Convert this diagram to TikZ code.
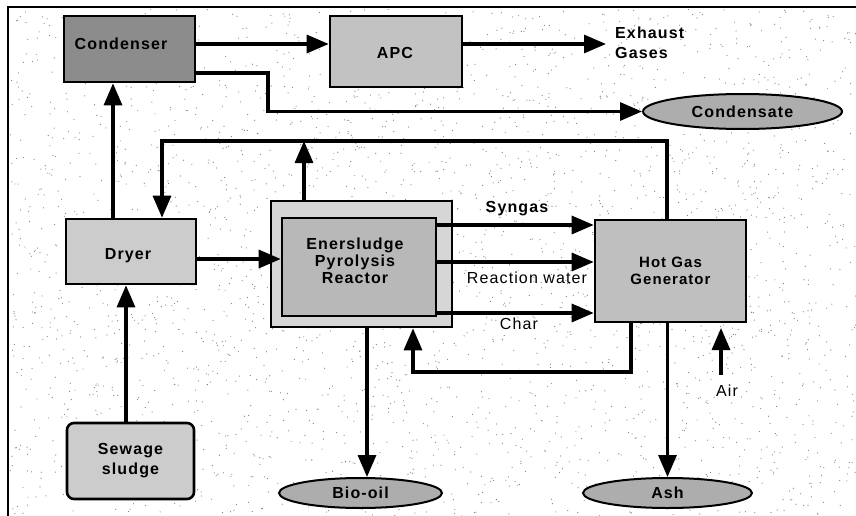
\documentclass[tikz,border=0pt]{standalone}
\usepackage{fontspec}
\setmainfont{Liberation Sans}[LetterSpace=7]
\usetikzlibrary{arrows.meta,shapes.geometric}
\definecolor{condfill}{gray}{0.55}
\definecolor{apcfill}{gray}{0.76}
\definecolor{dryfill}{gray}{0.80}
\definecolor{routfill}{gray}{0.84}
\definecolor{rinfill}{gray}{0.72}
\definecolor{hggfill}{gray}{0.75}
\definecolor{sewfill}{gray}{0.80}
\definecolor{ellfill}{gray}{0.68}
\definecolor{dotcol}{gray}{0.5}
\begin{document}
\begin{tikzpicture}[x=1pt,y=-1pt,
  box/.style={draw, line width=2.6pt, inner sep=0pt, align=center,
    font=\fontsize{16}{17}\selectfont\bfseries},
  txt/.style={inner sep=0pt, align=center, font=\fontsize{16}{17}\selectfont\bfseries},
  oval/.style={draw, ellipse, line width=2pt, inner sep=0pt, fill=ellfill,
    font=\fontsize{16}{17}\selectfont\bfseries},
  flow/.style={line width=3.2pt, -{Triangle[length=22pt,width=18pt]}},
  lbl/.style={font=\fontsize{16}{20}\selectfont\bfseries, inner sep=1pt},
  lbltwo/.style={font=\fontsize{16}{20}\selectfont, inner sep=1pt}]
\useasboundingbox (0,0) rectangle (856,516);
\fill[white] (0,0) rectangle (856,516);
% scanned stipple background
\pgfmathsetseed{11}
\foreach \i in {1,...,3000} {\fill[dotcol] (10+rnd*846, 9+rnd*507) circle (0.6pt);}
\draw[line width=1.5pt] (8,516) -- (8,7) -- (856,7);

% boxes
\node[box, fill=condfill, minimum width=131pt, minimum height=66pt] (cond) at (129.5,49) {};
\node[txt] (condT) at (121,44) {Condenser};
\node[box, fill=apcfill, minimum width=132pt, minimum height=71pt] (apc) at (396,51.5) {};
\node[txt] (apcT) at (395,53) {APC};
\node[box, fill=dryfill, minimum width=130pt, minimum height=65pt] (dryer) at (131,251.5) {};
\node[txt] (dryT) at (128,256) {Dryer};
\node[box, fill=sewfill, rounded corners=7pt, minimum width=127pt, minimum height=76pt, font=\fontsize{16}{20}\selectfont\bfseries] (sew) at (130.5,461) {Sewage\\sludge};
\node[box, fill=routfill, minimum width=181pt, minimum height=126pt] (rout) at (361.5,264) {};
\node[box, fill=rinfill, minimum width=154pt, minimum height=98pt] (rin) at (359,267) {};
\node[txt] (rinT) at (355,261) {Enersludge\\Pyrolysis\\Reactor};
\node[box, fill=hggfill, minimum width=151pt, minimum height=102pt, font=\fontsize{15}{17}\selectfont\bfseries] (hgg) at (670.5,271) {Hot Gas\\Generator};
\node[oval, minimum width=199pt, minimum height=35pt] (condensate) at (742.5,111.5) {Condensate};
\node[oval, minimum width=163pt, minimum height=30pt] (bio) at (360.5,493) {Bio-oil};
\node[oval, minimum width=169pt, minimum height=30pt] (ash) at (667.5,493) {Ash};

% text labels
\node[lbl, anchor=west, align=left] (exh) at (614,43) {Exhaust\\Gases};
\node[lbl] (syn) at (517,209) {Syngas};
\node[lbltwo] (rw) at (527,278) {Reaction water};
\node[lbltwo] (char) at (519,324) {Char};
\node[lbltwo] (air) at (727,391) {Air};

% helper coordinates
\coordinate (yA) at (0,44);
\coordinate (exhTip) at ([xshift=-8pt]exh.west);
\coordinate (c1) at (0,73);
\coordinate (c2) at (268,111.5);
\coordinate (lpR) at (667,141);
\coordinate (lpL) at (162,141);
\coordinate (rup) at (304,141);
\coordinate (x113) at (113,0);
\coordinate (x126) at (126,0);
\coordinate (y259) at (0,259);
\coordinate (y225) at (0,225);
\coordinate (y262) at (0,262);
\coordinate (y313) at (0,313);
\coordinate (x631) at (631,0);
\coordinate (rb) at (413,372);
\coordinate (x367) at (367,0);
\coordinate (airS) at (721,375);
\coordinate (airTip) at (721,328);

% connectors
\draw[flow] (cond.east |- yA) -- (apc.west |- yA);
\draw[flow] (apc.east |- yA) -- (exhTip |- yA);
\draw[flow] (cond.east |- c1) -| (c2) -- (condensate.west);
\draw[flow] (hgg.north -| lpR) -- (lpR) -- (lpL) -- (dryer.north -| lpL);
\draw[flow] (rout.north -| rup) -- (rup);
\draw[flow] (dryer.north -| x113) -- (cond.south -| x113);
\draw[flow] (sew.north -| x126) -- (dryer.south -| x126);
\draw[flow] (dryer.east |- y259) -- (rin.west |- y259);
\draw[flow] (rin.east |- y225) -- (hgg.west |- y225);
\draw[flow] (rin.east |- y262) -- (hgg.west |- y262);
\draw[flow] (rin.east |- y313) -- (hgg.west |- y313);
\draw[flow] (hgg.south -| x631) |- (rb) -- (rout.south -| rb);
\draw[flow] (rout.south -| x367) -- (bio.north -| x367);
\draw[flow] (hgg.south -| ash.north) -- (ash.north);
\draw[flow] (airS) -- (airTip);
\end{tikzpicture}
\end{document}
